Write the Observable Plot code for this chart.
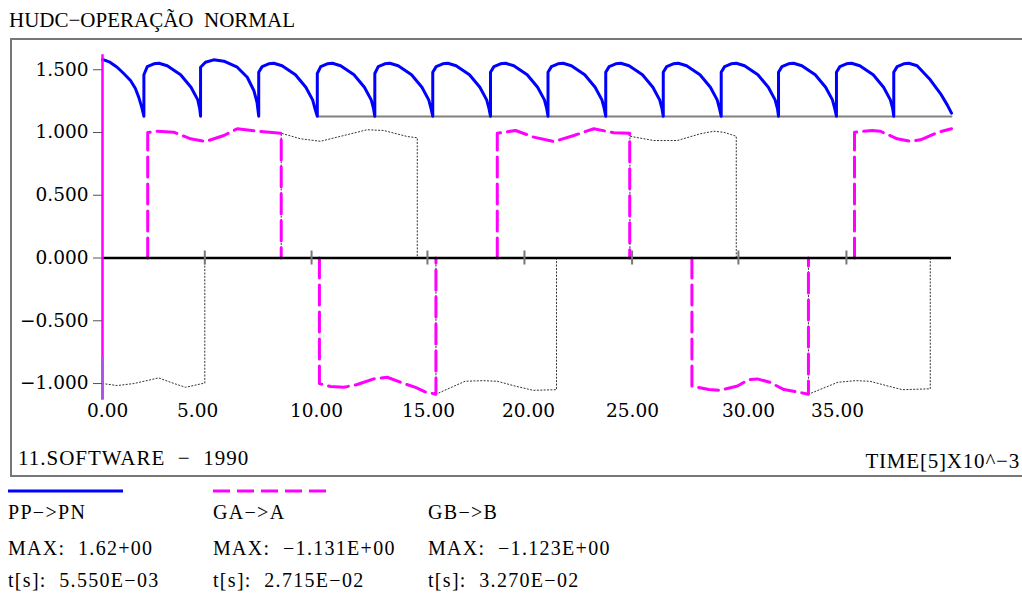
<!DOCTYPE html>
<html>
<head>
<meta charset="utf-8">
<script src="https://cdn.jsdelivr.net/npm/d3@7"></script>
<script src="https://cdn.jsdelivr.net/npm/@observablehq/plot@0.6"></script>
<style>
  html, body { margin: 0; padding: 0; background: #fff; }
  body { width: 1022px; height: 595px; position: relative; overflow: hidden; font-family: "Liberation Serif", serif; color: #000; }
  .txt { position: absolute; line-height: 1; white-space: pre; }
  #title { left: 9px; top: 9.5px; font-size: 21px; letter-spacing: 0px; }
  #chart { position: absolute; left: 0; top: 0; }
  #box { position: absolute; left: 10px; top: 38px; width: 1030px; height: 439px; border: 2px solid #777; border-right: none; box-sizing: border-box; pointer-events: none; }
  #sw { left: 18px; top: 448px; font-size: 21px; letter-spacing: 1.0px; }
  #tm { right: 2px; top: 451px; font-size: 21px; letter-spacing: 0.8px; }
  .leg { font-size: 20px; letter-spacing: 1.3px; }
</style>
</head>
<body>
<div id="title" class="txt">HUDC−OPERAÇÃO&#8194;NORMAL</div>
<div id="chart"></div>
<div id="box"></div>
<div id="sw" class="txt">11.SOFTWARE  −  1990</div>
<div id="tm" class="txt">TIME[5]X10^−3</div>
<div id="legend"></div>
<script>
// ---------------- data ----------------
const yTicks = [-1, -0.5, 0, 0.5, 1, 1.5];
const xTickPos = [4.82, 9.85, 15.31, 19.88, 24.95, 29.96, 35.05];
const xLabelPos = [0.24, 4.48, 10.08, 15.36, 20.07, 24.97, 30.44, 34.63];
const xTickLabels = ["0.00", "5.00", "10.00", "15.00", "20.00", "25.00", "30.00", "35.00"];

// PP->PN (blue), [time ms, value]
const ppPn = [
  [0, 1.582], [0.35, 1.56], [0.69, 1.52], [1.0, 1.47], [1.32, 1.414], [1.55, 1.35], [1.71, 1.28], [1.85, 1.2], [1.95, 1.13],
  [1.95, 1.46], [2.11, 1.525], [2.42, 1.547], [2.66, 1.552], [3.05, 1.532], [3.68, 1.46], [4.17, 1.36], [4.49, 1.26], [4.58, 1.19], [4.62, 1.13],
  [4.62, 1.52], [4.85, 1.56], [5.24, 1.579], [5.72, 1.568], [6.35, 1.52], [6.82, 1.44], [7.13, 1.335], [7.28, 1.24], [7.36, 1.13],
  [7.36, 1.48], [7.52, 1.525], [7.83, 1.547], [8.07, 1.552], [8.46, 1.532], [9.09, 1.46], [9.58, 1.36], [9.9, 1.26], [10.01, 1.19], [10.12, 1.13],
  [10.12, 1.47], [10.28, 1.525], [10.59, 1.547], [10.83, 1.552], [11.22, 1.532], [11.85, 1.46], [12.34, 1.36], [12.66, 1.26], [12.77, 1.19], [12.83, 1.13],
  [12.83, 1.47], [12.99, 1.525], [13.3, 1.547], [13.54, 1.552], [13.93, 1.532], [14.56, 1.46], [15.05, 1.36], [15.37, 1.26], [15.48, 1.19], [15.56, 1.13],
  [15.56, 1.48], [15.72, 1.525], [16.03, 1.547], [16.27, 1.552], [16.66, 1.532], [17.29, 1.46], [17.78, 1.36], [18.1, 1.26], [18.21, 1.19], [18.28, 1.13],
  [18.28, 1.48], [18.44, 1.525], [18.75, 1.547], [18.99, 1.552], [19.38, 1.532], [20.01, 1.46], [20.5, 1.36], [20.82, 1.26], [20.93, 1.19], [20.99, 1.13],
  [20.99, 1.48], [21.15, 1.525], [21.46, 1.547], [21.7, 1.552], [22.09, 1.532], [22.72, 1.46], [23.21, 1.36], [23.53, 1.26], [23.64, 1.19], [23.71, 1.13],
  [23.71, 1.48], [23.87, 1.525], [24.18, 1.547], [24.42, 1.552], [24.81, 1.532], [25.44, 1.46], [25.93, 1.36], [26.25, 1.26], [26.36, 1.19], [26.42, 1.13],
  [26.42, 1.48], [26.58, 1.525], [26.89, 1.547], [27.13, 1.552], [27.52, 1.532], [28.15, 1.46], [28.64, 1.36], [28.96, 1.26], [29.07, 1.19], [29.15, 1.13],
  [29.15, 1.48], [29.31, 1.525], [29.62, 1.547], [29.86, 1.552], [30.25, 1.532], [30.88, 1.46], [31.37, 1.36], [31.69, 1.26], [31.8, 1.19], [31.85, 1.13],
  [31.85, 1.48], [32.01, 1.525], [32.32, 1.547], [32.56, 1.552], [32.95, 1.532], [33.58, 1.46], [34.07, 1.36], [34.39, 1.26], [34.5, 1.19], [34.58, 1.13],
  [34.58, 1.48], [34.74, 1.525], [35.05, 1.547], [35.29, 1.552], [35.68, 1.532], [36.31, 1.46], [36.8, 1.36], [37.12, 1.26], [37.23, 1.19], [37.28, 1.13],
  [37.28, 1.48], [37.44, 1.525], [37.75, 1.547], [37.99, 1.552], [38.38, 1.532], [39.0, 1.42], [39.48, 1.31], [39.8, 1.22], [40.0, 1.154]
];
// grey baseline under the PP->PN ripple
const ppBase = [[10.12, 1.128], [40.0, 1.128]];

// GA->A (magenta dashed)
const gaA = [
  [0, 0], [2.13, 0],
  [2.13, 1.0], [2.58, 1.01], [3.36, 1.002], [4.15, 0.95], [4.85, 0.928], [5.72, 0.976], [6.35, 1.03], [7.29, 1.01], [8.42, 0.994],
  [8.42, 0], [10.22, 0],
  [10.22, -1.0], [10.74, -1.024], [11.37, -1.03], [12.0, -1.008], [12.78, -0.963], [13.41, -0.95], [14.2, -1.0], [14.75, -1.03], [15.2, -1.066], [15.71, -1.085],
  [15.71, 0], [18.6, 0],
  [18.6, 0.994], [19.46, 1.016], [20.32, 0.963], [21.26, 0.928], [22.21, 0.976], [23.15, 1.03], [24.09, 0.998], [24.84, 0.994],
  [24.84, 0], [27.77, 0],
  [27.77, -1.02], [28.57, -1.048], [29.07, -1.054], [29.92, -1.02], [30.43, -0.97], [30.85, -0.963], [31.44, -0.99], [32.11, -1.048], [32.62, -1.063], [33.26, -1.085],
  [33.26, 0], [35.43, 0],
  [35.43, 1.002], [36.26, 1.016], [36.65, 1.01], [37.44, 0.95], [38.07, 0.93], [38.54, 0.942], [39.33, 1.0], [40.0, 1.03]
];

// GB->B (grey dotted)
const gbB = [
  [0, -1.0], [0.69, -1.016], [1.48, -1.0], [2.65, -0.955], [3.2, -0.99], [3.91, -1.03], [4.82, -0.996],
  [4.82, 0], [8.42, 0],
  [8.42, 0.994], [9.33, 0.95], [10.27, 0.93], [11.37, 0.976], [12.47, 1.022], [13.25, 1.016], [14.36, 0.968], [14.83, 0.958],
  [14.83, 0], [15.71, 0],
  [15.71, -1.085], [17.08, -0.982], [17.92, -0.977], [18.6, -0.982], [19.44, -1.02], [20.29, -1.054], [21.39, -1.049],
  [21.39, 0], [24.85, 0],
  [24.85, 0.97], [25.97, 0.936], [27.08, 0.936], [28.17, 0.99], [28.8, 1.01], [29.27, 1.002], [29.86, 0.97],
  [29.86, 0], [33.26, 0],
  [33.26, -1.085], [33.38, -1.077], [34.64, -0.99], [35.49, -0.977], [36.16, -0.982], [37.01, -1.02], [37.68, -1.049], [39.0, -1.042],
  [39.0, 0], [40.0, 0]
];

// vertical (y-axis) trace span and its lower tinted part
const axisSpan = [-1.131, 1.62];
const axisTint = [-1.131, -0.79];

// legend content
const seriesNames = ["PP−>PN", "GA−>A", "GB−>B"];
const seriesMax = ["1.62+00", "−1.131E+00", "−1.123E+00"];
const seriesTmax = ["5.550E−03", "2.715E−02", "3.270E−02"];
const seriesColors = ["#0000ff", "#ff00ff", null];

// ---------------- chart ----------------
const toObj = a => a.map(([t, v]) => ({t, v}));
// the runs lying on the zero line are hidden by the axis: break the line there
const gapZero = a => {
  const out = [];
  a.forEach(([t, v], i) => {
    if (i > 0 && v === 0 && a[i - 1][1] === 0) out.push({t, v: NaN});
    out.push({t, v});
  });
  return out;
};
const fmtY = d3.format(".3f");

const chart = Plot.plot({
  width: 1022,
  height: 476,
  marginLeft: 102,
  marginRight: 71,
  marginTop: 40,
  marginBottom: 72,
  x: {domain: [0, 40], axis: null},
  y: {domain: [-1.167, 1.733], axis: null},
  style: {background: "transparent", fontFamily: "DejaVu Serif", color: "#000", overflow: "visible"},
  marks: [
    Plot.line(toObj(ppBase), {x: "t", y: "v", stroke: "#808080", strokeWidth: 2}),
    Plot.line(gapZero(gbB), {x: "t", y: "v", stroke: "#333", strokeWidth: 1, strokeDasharray: "1.2,2.2"}),
    Plot.line(gapZero(gaA), {x: "t", y: "v", stroke: "#ff00ff", strokeWidth: 3, strokeDasharray: "20,7"}),
    Plot.line(toObj(ppPn), {x: "t", y: "v", stroke: "#0000ff", strokeWidth: 3, strokeLinejoin: "round"}),
    Plot.ruleY([0], {stroke: "#000", strokeWidth: 2.5}),
    Plot.ruleX(xTickPos, {y1: 0, y2: 0, insetTop: -7, insetBottom: -7, stroke: "#777", strokeWidth: 2}),
    Plot.ruleX([0], {y1: axisSpan[0], y2: axisSpan[1], stroke: "#ff00ff", strokeWidth: 2.5}),
    Plot.ruleX([0], {y1: axisTint[0], y2: axisTint[1], stroke: "#b050e8", strokeWidth: 2.5}),
    Plot.axisY({ticks: yTicks, tickFormat: fmtY, tickSize: 9, tickPadding: 5, fontSize: 18.5, stroke: "#555", fill: "#000", label: null}),
    Plot.text(xLabelPos, {x: d => d, text: (d, i) => xTickLabels[i], frameAnchor: "bottom", dy: 12, fontSize: 18.5, fill: "#000"})
  ]
});
document.getElementById("chart").appendChild(chart);

// ---------------- legend ----------------
const legend = document.getElementById("legend");
const colLeft = [8, 213, 428];
const lineSpan = [[8, 123], [213, 331]];
const ns = "http://www.w3.org/2000/svg";
const lsvg = document.createElementNS(ns, "svg");
lsvg.setAttribute("width", 1022);
lsvg.setAttribute("height", 20);
lsvg.style.position = "absolute";
lsvg.style.left = "0px";
lsvg.style.top = "481px";
seriesColors.forEach((c, i) => {
  if (!c) return;
  const l = document.createElementNS(ns, "line");
  l.setAttribute("x1", lineSpan[i][0]);
  l.setAttribute("x2", lineSpan[i][1]);
  l.setAttribute("y1", 10);
  l.setAttribute("y2", 10);
  l.setAttribute("stroke", c);
  l.setAttribute("stroke-width", 3);
  if (i === 1) l.setAttribute("stroke-dasharray", "17,7");
  lsvg.appendChild(l);
});
legend.appendChild(lsvg);

const rowTop = [502, 538, 570];
seriesNames.forEach((name, i) => {
  const rows = [name, "MAX:  " + seriesMax[i], "t[s]:  " + seriesTmax[i]];
  rows.forEach((txt, r) => {
    const d = document.createElement("div");
    d.className = "txt leg";
    d.style.left = colLeft[i] + "px";
    d.style.top = rowTop[r] + "px";
    d.textContent = txt;
    legend.appendChild(d);
  });
});
</script>
</body>
</html>
